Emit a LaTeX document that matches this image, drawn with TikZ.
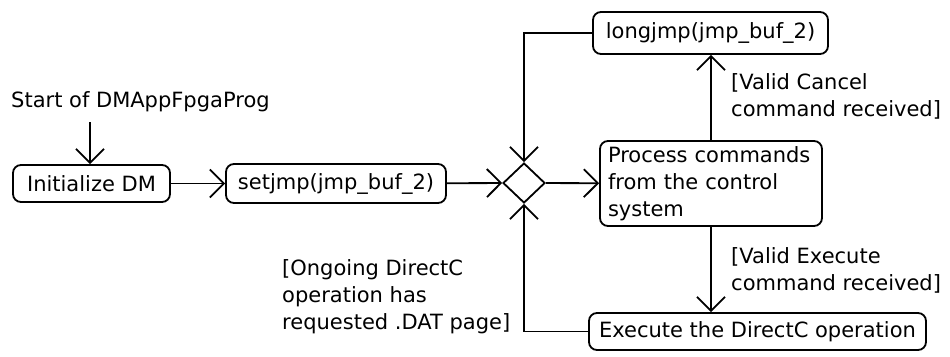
\documentclass[tikz,border=0pt]{standalone}
\usepackage{fontspec}
\setmainfont{DejaVu Sans}
\usetikzlibrary{arrows.meta,shapes.geometric}
\begin{document}
\begin{tikzpicture}[x=1pt,y=-1pt,
  every node/.style={font=\fontsize{21}{27}\selectfont},
  action/.style={draw,line width=1.8pt,rounded corners=8pt,inner sep=0pt},
  decision/.style={draw,diamond,line width=1.8pt,inner sep=0pt,minimum width=42pt,minimum height=40pt},
  guard/.style={align=left,inner sep=0pt},
  flow/.style={line width=1.8pt,-{Straight Barb[length=14pt,width=28pt,line width=1.8pt]}}]
\useasboundingbox (0,0) rectangle (950,356);

\node[guard,anchor=west] (start) at (11,102) {Start of DMAppFpgaProg};
\node[action,minimum width=157pt,minimum height=37pt] (init) at (91.5,183.5) {Initialize DM};
\node[action,minimum width=220pt,minimum height=39pt] (set) at (336,183.5) {setjmp(jmp\_buf\_2)};
\node[decision] (dec) at (524,183) {};
\node[action,minimum width=222pt,minimum height=85pt,align=left,text width=206pt] (proc) at (711,183.5) {Process commands\\from the control\\system};
\node[action,minimum width=235pt,minimum height=42pt] (long) at (710.5,33) {longjmp(jmp\_buf\_2)};
\node[action,minimum width=337pt,minimum height=37pt] (exec) at (757.5,331.5) {Execute the DirectC operation};

\node[guard,anchor=west] (cancel) at (731,96) {[Valid Cancel\\command received]};
\node[guard,anchor=west] (execg) at (731,270) {[Valid Execute\\command received]};
\node[guard,anchor=west] (dat) at (282,297) {[Ongoing DirectC\\operation has\\requested .DAT page]};

\coordinate (s) at (90,122);
\draw[flow] (s) -- (init.north -| s);
\draw[flow] (init) -- (set);
\draw[flow] (set) -- (dec);
\draw[flow] (dec) -- (proc);
\draw[flow] (proc.north) -- (long.south -| proc.north);
\draw[flow] (proc.south) -- (exec.north -| proc.south);
\draw[flow] (long.west) -| (dec.north);
\draw[flow] (exec.west) -| (dec.south);
\end{tikzpicture}
\end{document}
